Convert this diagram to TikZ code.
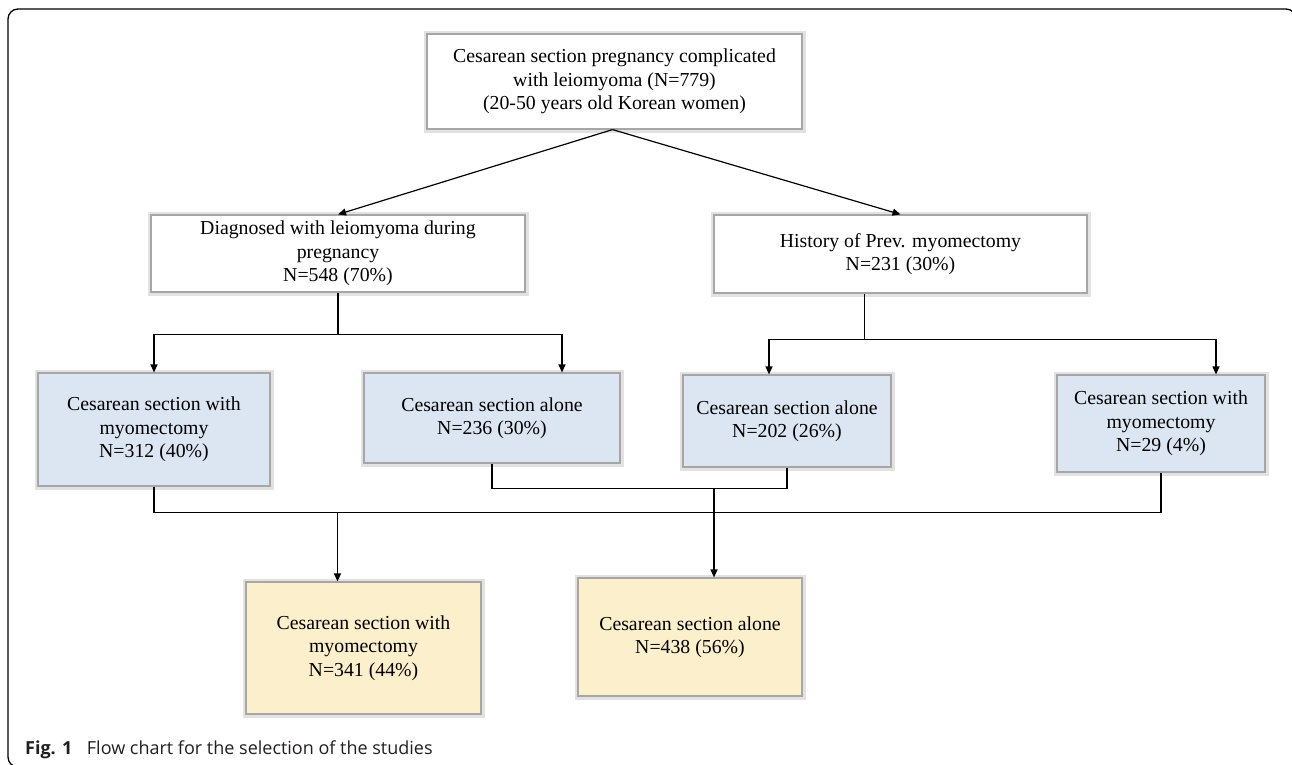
\documentclass[tikz,border=0pt]{standalone}
\usepackage{fontspec}
\setmainfont{Liberation Serif}
\newfontfamily\capfont{Open Sans}
\usetikzlibrary{arrows.meta,calc}
\definecolor{boxblue}{HTML}{DCE6F2}
\definecolor{boxyel}{HTML}{FCEFCB}
\definecolor{boxedge}{HTML}{A6A6A6}
\definecolor{boxhalo}{HTML}{E2E2E2}
\definecolor{captxt}{HTML}{231F20}
\begin{document}
\begin{tikzpicture}[x=1pt,y=-1pt,
  box/.style={draw=boxedge, line width=1.2pt, preaction={draw=boxhalo, line width=7pt},
    align=center, inner sep=0pt, font=\fontsize{19.8}{23.5}\selectfont},
  wbox/.style={box, fill=white},
  bbox/.style={box, fill=boxblue},
  ybox/.style={box, fill=boxyel},
  arr/.style={-{Triangle[length=8pt,width=7pt]}, line width=1.2pt},
  ln/.style={line width=1.2pt}]
\useasboundingbox (0,0) rectangle (1292,764);
\fill[white] (0,0) rectangle (1292,764);
% frame
\draw[line width=1.3pt, rounded corners=10pt] (30,767) -- (8,767) -- (8,9) -- (1296,9) -- (1296,60);
% boxes
\node[wbox, minimum width=375, minimum height=95] (top) at (614.5,81.5)
  {Cesarean section pregnancy complicated\\with leiomyoma (N=779)\\(20-50 years old Korean women)};
\node[wbox, minimum width=374, minimum height=77] (diag) at (338,253.5)
  {Diagnosed with leiomyoma during\\pregnancy\\N=548 (70\%)};
\node[wbox, minimum width=373, minimum height=78] (hist) at (900.5,254)
  {History of Prev. myomectomy\\N=231 (30\%)};
\node[bbox, minimum width=232, minimum height=113] (b1) at (154,429.5)
  {Cesarean section with\\myomectomy\\N=312 (40\%)};
\node[bbox, minimum width=256, minimum height=90] (b2) at (492,418)
  {Cesarean section alone\\N=236 (30\%)};
\node[bbox, minimum width=208, minimum height=92] (b3) at (787,421)
  {Cesarean section alone\\N=202 (26\%)};
\node[bbox, minimum width=208, minimum height=97] (b4) at (1161,423.5)
  {Cesarean section with\\myomectomy\\N=29 (4\%)};
\node[ybox, minimum width=235, minimum height=132] (y1) at (363.5,648)
  {Cesarean section with\\myomectomy\\N=341 (44\%)};
\node[ybox, minimum width=224, minimum height=118] (y2) at (690,637)
  {Cesarean section alone\\N=438 (56\%)};
% caption
\node[anchor=base west, inner sep=0pt, text=captxt, font=\capfont\fontsize{18}{21}\selectfont] (cap) at (25,754)
  {\textbf{Fig. 1}\hspace{0.55em} Flow chart for the selection of the studies};
% connectors
\draw[arr] ([xshift=-2pt]top.south) -- (diag.north);
\draw[arr] ([xshift=-2pt]top.south) -- (hist.north);
\coordinate (j1) at ($(diag.south)+(0,42)$);
\draw[ln] (diag.south) -- (j1);
\draw[arr] (j1) -| (b1.north);
\draw[arr] (j1) -| ([xshift=70pt]b2.north);
\coordinate (hs) at ([xshift=-36pt]hist.south);
\coordinate (j2) at ($(hs)+(0,46)$);
\draw[ln] (hs) -- (j2);
\draw[arr] (j2) -| ([xshift=-18pt]b3.north);
\draw[arr] (j2) -| ([xshift=55pt]b4.north);
\coordinate (j3) at ($(b2.south)+(0,25)$);
\draw[ln] (b2.south) -- (j3) -| (b3.south);
\coordinate (j4) at ($(b1.south)+(0,26)$);
\draw[ln] (b1.south) -- (j4) -| (b4.south);
\coordinate (j5) at ([xshift=24pt]j3 -| y2.north);
\draw[arr] (j5) -- ([xshift=24pt]y2.north);
\coordinate (j6) at ([xshift=-26pt]y1.north |- j4);
\draw[arr] (j6) -- ([xshift=-26pt]y1.north);
\end{tikzpicture}
\end{document}
